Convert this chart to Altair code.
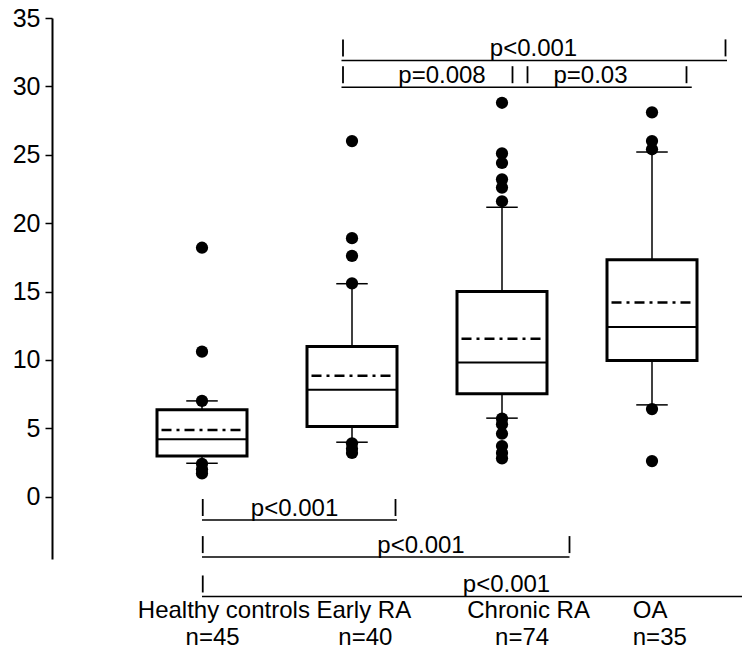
import altair as alt
import pandas as pd

FONT = "Liberation Sans"

# ---- box-plot summary values ----
groups = ["Healthy controls", "Early RA", "Chronic RA", "OA"]
n_labels = ["n=45", "n=40", "n=74", "n=35"]
positions = [1, 2, 3, 4]
q1 = [2.98, 5.12, 7.52, 9.96]
q3 = [6.35, 10.98, 15.0, 17.33]
medians = [4.2, 7.81, 9.81, 12.4]
means = [4.88, 8.84, 11.54, 14.2]
whisker_low = [2.44, 3.98, 5.74, 6.71]
whisker_high = [7.0, 15.57, 21.16, 25.2]

# ---- outliers ----
outlier_healthy = [18.2, 10.6, 7.0, 2.4, 2.0, 1.7]
outlier_early = [26.0, 18.9, 17.6, 15.6, 3.9, 3.5, 3.2]
outlier_chronic = [28.8, 25.1, 24.4, 23.2, 22.6, 21.6, 5.7, 5.3, 4.6, 3.7, 3.2, 2.8]
outlier_oa = [28.1, 26.0, 25.4, 6.4, 2.6]

# ---- significance brackets (x in group units, y in data units) ----
bracket_start = [1.93, 1.93, 1.0, 1.0, 1.0]
bracket_end = [4.50, 4.265, 2.30, 3.45, 4.6]
bracket_y = [31.9, 29.94, -1.71, -4.42, -7.3]
p_texts = ["p<0.001", "p=0.008", "p=0.03", "p<0.001", "p<0.001", "p<0.001"]
p_text_x = [3.21, 2.60, 3.59, 1.617, 2.46, 3.03]
p_text_y = [31.9, 29.94, 29.94, -1.71, -4.42, -7.3]
tick_x = [1.94, 4.49, 1.94, 3.07, 3.17, 4.23, 1.005, 2.29, 1.005, 3.45, 1.005]
tick_y = [31.9, 31.9, 29.94, 29.94, 29.94, 29.94, -1.71, -1.71, -4.42, -4.42, -7.3]

# ---- category label placement (x in group units) ----
group_label_x = [0.572, 1.763, 2.768, 3.872]
n_label_x = [1.071, 2.089, 3.134, 4.052]
group_label_y = [-8.35] * 4
n_label_y = [-10.35] * 4

box_df = pd.DataFrame({
    "group": groups, "pos": positions, "q1": q1, "q3": q3,
    "median": medians, "mean": means, "wlo": whisker_low, "whi": whisker_high,
})
out_rows = []
for g, p, vals in zip(groups, positions, [outlier_healthy, outlier_early, outlier_chronic, outlier_oa]):
    for v in vals:
        out_rows.append({"group": g, "pos": p, "value": v})
out_df = pd.DataFrame(out_rows)
br_df = pd.DataFrame({"x": bracket_start, "x2": bracket_end, "y": bracket_y})
pt_df = pd.DataFrame({"x": p_text_x, "y": p_text_y, "t": p_texts})
tk_df = pd.DataFrame({"x": tick_x, "y": tick_y})
lab_df = pd.DataFrame({"x": group_label_x, "y": group_label_y, "t": groups})
n_df = pd.DataFrame({"x": n_label_x, "y": n_label_y, "t": n_labels})

xs = alt.Scale(domain=[0, 4.6], nice=False, zero=False)
ys = alt.Scale(domain=[-4.56, 35], nice=False, zero=False)

yaxis = alt.Axis(values=[0, 5, 10, 15, 20, 25, 30, 35], title=None, grid=False,
                 labelFont=FONT, labelFontSize=25, labelColor="black",
                 tickColor="black", tickSize=7, tickWidth=1.5,
                 domainColor="black", domainWidth=2, labelPadding=5)

base = alt.Chart(box_df)
HALF = 0.3
CAP = 0.105

whisk_hi = base.mark_rule(color="black", strokeWidth=1.5).encode(
    x=alt.X("pos:Q", scale=xs, axis=None),
    y=alt.Y("q3:Q", scale=ys, axis=yaxis), y2="whi:Q")
whisk_lo = base.mark_rule(color="black", strokeWidth=1.5).encode(
    x=alt.X("pos:Q", scale=xs, axis=None),
    y=alt.Y("q1:Q", scale=ys, axis=yaxis), y2="wlo:Q")
cap_hi = base.transform_calculate(a=f"datum.pos - {CAP}", b=f"datum.pos + {CAP}").mark_rule(
    color="black", strokeWidth=1.5).encode(
    x=alt.X("a:Q", scale=xs, axis=None), x2="b:Q", y=alt.Y("whi:Q", scale=ys, axis=yaxis))
cap_lo = base.transform_calculate(a=f"datum.pos - {CAP}", b=f"datum.pos + {CAP}").mark_rule(
    color="black", strokeWidth=1.5).encode(
    x=alt.X("a:Q", scale=xs, axis=None), x2="b:Q", y=alt.Y("wlo:Q", scale=ys, axis=yaxis))
boxes = base.transform_calculate(a=f"datum.pos - {HALF}", b=f"datum.pos + {HALF}").mark_rect(
    fill="white", stroke="black", strokeWidth=3).encode(
    x=alt.X("a:Q", scale=xs, axis=None), x2="b:Q",
    y=alt.Y("q1:Q", scale=ys, axis=yaxis), y2="q3:Q")
med = base.transform_calculate(a=f"datum.pos - {HALF}", b=f"datum.pos + {HALF}").mark_rule(
    color="black", strokeWidth=2).encode(
    x=alt.X("a:Q", scale=xs, axis=None), x2="b:Q", y=alt.Y("median:Q", scale=ys, axis=yaxis))
mean_l = base.transform_calculate(a=f"datum.pos - {HALF - 0.03}", b=f"datum.pos + {HALF - 0.03}").mark_rule(
    color="black", strokeWidth=2.5, strokeDash=[10, 5, 3, 5]).encode(
    x=alt.X("a:Q", scale=xs, axis=None), x2="b:Q", y=alt.Y("mean:Q", scale=ys, axis=yaxis))

dots = alt.Chart(out_df).mark_circle(color="black", opacity=1, size=150).encode(
    x=alt.X("pos:Q", scale=xs, axis=None), y=alt.Y("value:Q", scale=ys, axis=yaxis))

br_lines = alt.Chart(br_df).mark_rule(color="black", strokeWidth=1.5).encode(
    x=alt.X("x:Q", scale=xs, axis=None), x2="x2:Q", y=alt.Y("y:Q", scale=ys, axis=yaxis))
br_ticks = alt.Chart(tk_df).mark_rule(color="black", strokeWidth=1.8, yOffset=-4, y2Offset=-21).encode(
    x=alt.X("x:Q", scale=xs, axis=None), y=alt.Y("y:Q", scale=ys, axis=yaxis), y2="y:Q")
br_text = alt.Chart(pt_df).mark_text(font=FONT, fontSize=24, color="black", align="center",
                                     baseline="alphabetic", dy=-4).encode(
    x=alt.X("x:Q", scale=xs, axis=None), y=alt.Y("y:Q", scale=ys, axis=yaxis), text="t:N")

grp_text = alt.Chart(lab_df).mark_text(font=FONT, fontSize=24, color="black", align="left",
                                       baseline="middle").encode(
    x=alt.X("x:Q", scale=xs, axis=None), y=alt.Y("y:Q", scale=ys, axis=yaxis), text="t:N")
n_text = alt.Chart(n_df).mark_text(font=FONT, fontSize=24, color="black", align="center",
                                   baseline="middle").encode(
    x=alt.X("x:Q", scale=xs, axis=None), y=alt.Y("y:Q", scale=ys, axis=yaxis), text="t:N")

chart = alt.layer(
    whisk_hi, whisk_lo, cap_hi, cap_lo, boxes, med, mean_l, dots,
    br_lines, br_ticks, br_text, grp_text, n_text,
).properties(
    width=690, height=541,
    autosize=alt.AutoSizeParams(type="none"),
    padding={"left": 52, "top": 18, "right": 0, "bottom": 92},
    background="white",
).configure_view(strokeWidth=0)

chart.save("out.html", embed_options={"renderer": "svg", "actions": False})
